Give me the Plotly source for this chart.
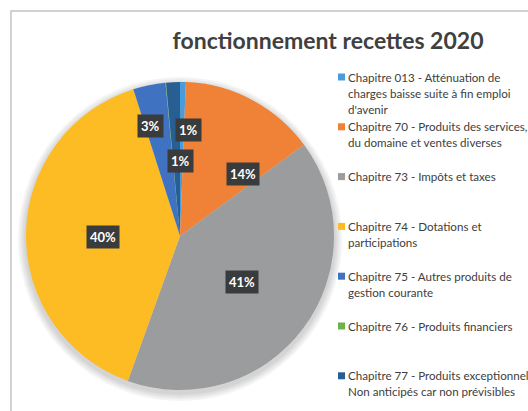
import math
import plotly.graph_objects as go

# ---------------- data ----------------
categories = [
    "Chapitre 013 - Atténuation de\ncharges baisse suite à fin emploi\nd'avenir",
    "Chapitre 70 - Produits des services,\ndu domaine et ventes diverses",
    "Chapitre 73 - Impôts et taxes",
    "Chapitre 74 - Dotations et\nparticipations",
    "Chapitre 75 - Autres produits de\ngestion courante",
    "Chapitre 76 - Produits financiers",
    "Chapitre 77 - Produits exceptionnel\nNon anticipés car non prévisibles",
]
shares = [0.6, 14.3, 40.6, 39.6, 3.4, 0.05, 1.45]
title_text = "fonctionnement recettes 2020"

# ---------------- styles ----------------
colors = ["#4A9BDB", "#F08237", "#9A9C9D", "#FDBC24", "#3F73C2", "#6BB34A", "#275F92"]
# per-slice label placement (radial fraction, x shift px, y shift px)
label_rf = [0.69, 0.57, 0.50, 0.50, 0.73, 0.50, 0.49]
label_dx = [6, 22, 0, 0, -7, 0, 4]
label_dy = [0, -16, 0, -2, 0, 0, 0]

W, H = 528, 411
CX, CY, R = 180, 236, 154  # pie centre / radius in px (from top-left)
FONT = "Lato"

fig = go.Figure()
fig.add_trace(go.Pie(
    labels=[c.replace("\n", " ") for c in categories],
    values=shares,
    sort=False,
    direction="clockwise",
    rotation=0,
    marker=dict(colors=colors, line=dict(width=0)),
    textinfo="none",
    hovertemplate="%{label}<br>%{percent}<extra></extra>",
    showlegend=False,
    domain=dict(x=[(CX - R) / W, (CX + R) / W], y=[(H - CY - R) / H, (H - CY + R) / H]),
))

annotations = []
shapes = []

# soft shadow behind the pie
for k in range(4):
    rr = R + 2 + 2 * k
    shapes.append(dict(type="circle", xref="paper", yref="paper", layer="below",
                       x0=(CX - rr) / W, x1=(CX + rr) / W,
                       y0=1 - (CY + 3 + rr) / H, y1=1 - (CY + 3 - rr) / H,
                       fillcolor="rgba(0,0,0,0.045)", line=dict(width=0)))

# data labels (boxes) computed from the values
total = sum(shares)
cum = 0.0
for i, v in enumerate(shares):
    mid = (cum + v / 2) / total * 2 * math.pi
    cum += v
    pct = round(v / total * 100)
    if pct == 0:
        continue
    px = CX + label_rf[i] * R * math.sin(mid) + label_dx[i]
    py = CY - label_rf[i] * R * math.cos(mid) - label_dy[i]
    annotations.append(dict(
        x=px / W, y=1 - py / H, xref="paper", yref="paper",
        xanchor="center", yanchor="middle",
        text="<b>%d%%</b>" % pct, showarrow=False,
        font=dict(family=FONT, size=13, color="white"),
        bgcolor="#3A3B3D", borderpad=3,
    ))

# legend drawn at the right (one text per line, 16 px line pitch)
LEG_X, LEG_Y0, LEG_PITCH, LINE_H = 347, 77, 49.8, 16
for i, c in enumerate(categories):
    yc = LEG_Y0 + LEG_PITCH * i
    for k, line in enumerate(c.split("\n")):
        annotations.append(dict(
            x=LEG_X / W, y=1 - (yc + LINE_H * k) / H, xref="paper", yref="paper",
            xanchor="left", yanchor="middle", align="left", showarrow=False,
            text=line,
            font=dict(family=FONT, size=11.6, color="#404040"),
            borderpad=0,
        ))
    shapes.append(dict(type="rect", xref="paper", yref="paper",
                       x0=338 / W, x1=345 / W, y0=1 - (yc + 3.5) / H, y1=1 - (yc - 3.5) / H,
                       fillcolor=colors[i], line=dict(width=0)))

# chart-area border (cropped)
shapes.append(dict(type="path", xref="paper", yref="paper",
                   path="M %f,%f L %f,%f L %f,%f" % (11 / W, -0.05, 11 / W, 1 - 11 / H, 1.05, 1 - 11 / H),
                   line=dict(color="#C4C4C4", width=1.5)))

fig.update_layout(
    width=W, height=H,
    margin=dict(l=0, r=0, t=0, b=0),
    paper_bgcolor="white", plot_bgcolor="white",
    title=dict(text="<b>%s</b>" % title_text, x=328 / W, xanchor="center",
               y=1 - 41 / H, yanchor="middle",
               font=dict(family=FONT, size=23, color="#404040")),
    annotations=annotations,
    shapes=shapes,
)

fig.write_html("out.html", config={"displayModeBar": False},
               post_script="document.body.style.margin='0px';")
